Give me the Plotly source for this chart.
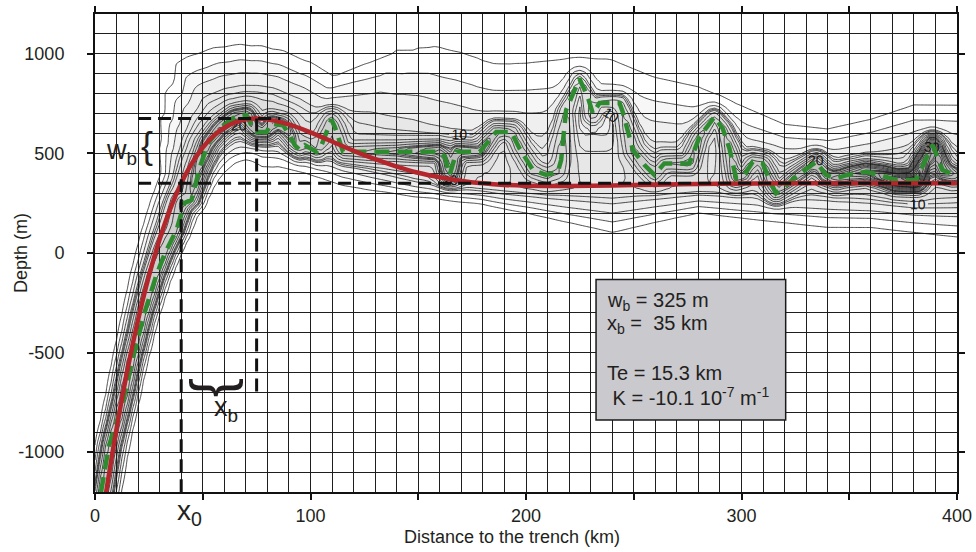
import numpy as np
import plotly.graph_objects as go

# ---------------------------------------------------------------------------
# Data (distance to the trench in km, depth in m)
# ---------------------------------------------------------------------------

# Elastic flexure model profile
RED_X = [4, 5, 6, 8, 10, 12, 15, 20, 25, 30, 35, 40, 45, 50, 55, 60, 65, 70,
         75, 80, 90, 100, 110, 120, 130, 140, 150, 160, 170, 180, 190, 200,
         220, 240, 260, 280, 300, 340, 400]
RED_Y = [-1285, -1213, -1144, -1010, -882, -761, -590, -335, -116, 69, 224,
         350, 451, 529, 588, 629, 656, 671, 675, 671, 646, 606, 560, 513, 471,
         434, 403, 380, 362, 350, 342, 338, 336, 339, 343, 347, 349, 350, 350]

# Median bathymetric profile
MED_X = [2.8, 3.9, 6.5, 10, 13.4, 17, 20.5, 23.2, 28.3, 32.5, 37.9, 41.4,
         44.8, 46.4, 48.7, 52.5, 57.9, 64.9, 70.3, 72.6, 75, 79.6, 81.9, 87.3,
         90.4, 92.7, 95, 97.4, 102.8, 105.1, 109.7, 111.3, 113.6, 115.1, 160,
         162.3, 164.6, 167.7, 178.5, 186.2, 193.2, 197, 203.2, 209.4, 214.8,
         216.3, 218.6, 224.8, 228.7, 231, 234.1, 243.4, 244.9, 249.6, 255,
         259.6, 264.2, 275.8, 280.5, 287.4, 291.3, 294.4, 297.5, 301.3, 305.2,
         309.8, 313.7, 316, 325.3, 334.6, 339.2, 343.8, 349.2, 357.8, 364,
         371.7, 381, 388.7, 393.3, 398.7]
MED_Y = [-1200, -1133, -967, -850, -725, -550, -413, -292, -117, 0, 117, 250,
         267, 333, 433, 550, 625, 683, 692, 641, 608, 608, 650, 641,
         591, 541, 517, 541, 508, 541, 670, 633, 550, 508, 508,
         483, 392, 508, 508, 608, 608, 525, 417, 392, 408,
         467, 717, 875, 783, 700, 753, 753, 708, 517, 442,
         392, 450, 450, 583, 683, 625, 525, 375, 392, 458,
         450, 350, 300, 383, 458, 392, 375, 392, 408, 392,
         367, 367, 542, 417, 392]

# Data-density swath around the profiles (counts per bin)
BAND_X = [0, 20, 40, 60, 80, 100, 120, 140, 160, 180, 200, 220, 240, 260, 280,
          300, 320, 340, 360, 380, 400]
BAND_UP = [16, 18, 24, 85, 75, 65, 115, 135, 135, 128, 131, 136, 135, 115,
           104, 83, 63, 58, 68, 83, 83]
BAND_DN = [15, 18, 30, 40, 51, 43, 39, 29, 23, 22, 29, 39, 50, 40, 31, 37, 42,
           47, 47, 52, 57]
BAND_LEVEL = [11, 11, 12, 12, 12, 11, 11, 11, 11, 11, 11, 11, 11, 11, 11, 11,
              11, 11, 12, 13, 12]
RIDGE_PEAK = [8, 8, 10, 14, 14, 8, 8, 10, 16, 12, 8, 6, 8, 8, 10, 10, 10, 14,
              20, 30, 12]

# Fitted bulge parameters
X0 = 40      # km, zero crossing
XB = 35      # km, distance from x0 to the bulge
WB = 325     # m, bulge height
BASE = 350   # m, reference level

X_TICKS = [0, 50, 100, 150, 200, 250, 300, 350, 400]
X_TICKTEXT = ["0", "", "100", "", "200", "", "300", "", "400"]
Y_TICKS = [-1000, -500, 0, 500, 1000]
Y_TICKTEXT = ["-1000", "-500", "0", "500", "1000"]

# ---------------------------------------------------------------------------
# Density grid
# ---------------------------------------------------------------------------
KX = 862.0 / 400.0     # screen units per km
KY = 478.0 / 2400.0    # screen units per m


def polyline_distance(px, py, lx, ly):
    ax, ay = lx[:-1], ly[:-1]
    dx, dy = lx[1:] - ax, ly[1:] - ay
    l2 = dx * dx + dy * dy
    t = ((px[:, None] - ax) * dx + (py[:, None] - ay) * dy) / l2
    t = np.clip(t, 0.0, 1.0)
    cx = ax + t * dx
    cy = ay + t * dy
    d2 = (px[:, None] - cx) ** 2 + (py[:, None] - cy) ** 2
    k = np.argmin(d2, axis=1)
    idx = np.arange(px.size)
    d = np.sqrt(d2[idx, k])
    cross = dx[k] * (py - ay[k]) - dy[k] * (px - ax[k])
    return d, cross > 0, cx[idx, k] / KX


gx = np.arange(0, 400.01, 2.5)
gy = np.arange(-1200, 1200.01, 25)
GX, GY = np.meshgrid(gx, gy)
ptx = GX.ravel() * KX
pty = GY.ravel() * KY

rx = np.array(RED_X, float) * KX
ry = np.array(RED_Y, float) * KY
d_r, above, nx_r = polyline_distance(ptx, pty, rx, ry)
w = np.where(above, np.interp(nx_r, BAND_X, BAND_UP),
             np.interp(nx_r, BAND_X, BAND_DN))
amp = np.interp(nx_r, BAND_X, BAND_LEVEL)
broad = amp * np.exp(-np.log(amp / 2.5) * (d_r / w) ** 2)

mx = np.array(MED_X, float) * KX
my = np.array(MED_Y, float) * KY
d_g, _, nx_g = polyline_distance(ptx, pty, mx, my)
ridge = np.interp(nx_g, BAND_X, RIDGE_PEAK) * np.exp(-(d_g / 10.0) ** 2)

Z = (broad + ridge).reshape(GX.shape)

# ---------------------------------------------------------------------------
# Figure
# ---------------------------------------------------------------------------
FONT = "Liberation Sans, Arial, Helvetica, sans-serif"
INK = "#231f20"

# each filled level adds a thin translucent grey layer
fill_scale = [
    [0.0, "rgba(90,90,90,0)"],
    [0.059, "rgba(90,90,90,0)"],
    [0.06, "rgba(90,90,90,0.045)"],
    [1.0, "rgba(90,90,90,0.045)"],
]

fig = go.Figure()

fig.add_trace(go.Contour(
    x=gx, y=gy, z=Z, zmin=0, zmax=50, autocontour=False,
    contours=dict(start=3, end=59, size=2, coloring="fill"),
    colorscale=fill_scale, showscale=False,
    line=dict(color="#111111", width=0.75, smoothing=0.5),
    hoverinfo="skip",
))

fig.add_trace(go.Contour(
    x=gx, y=gy, z=Z, autocontour=False,
    contours=dict(start=10, end=50, size=10, coloring="none",
                  showlabels=True,
                  labelfont=dict(family=FONT, size=14, color="#111111")),
    line=dict(color="#111111", width=0.75, smoothing=0.5),
    showscale=False, hoverinfo="skip",
))

fig.add_trace(go.Scatter(
    x=MED_X, y=MED_Y, mode="lines",
    line=dict(color="#2e8b30", width=4.5, dash="15px,8px"),
    hoverinfo="skip", showlegend=False,
))

fig.add_trace(go.Scatter(
    x=RED_X, y=RED_Y, mode="lines",
    line=dict(color="#b3262b", width=4.5, shape="spline", smoothing=0.6),
    hoverinfo="skip", showlegend=False,
))

dash_line = dict(color="#111111", width=3, dash="13px,7px")
shapes = [
    dict(type="line", xref="x", yref="y", x0=20, x1=86,
         y0=BASE + WB, y1=BASE + WB, line=dash_line, layer="above"),
    dict(type="line", xref="x", yref="y", x0=20, x1=400,
         y0=BASE, y1=BASE, line=dash_line, layer="above"),
    dict(type="line", xref="x", yref="y", x0=X0, x1=X0,
         y0=BASE + 20, y1=-1200, line=dash_line, layer="above"),
    dict(type="line", xref="x", yref="y", x0=X0 + XB, x1=X0 + XB,
         y0=BASE + WB, y1=-700, line=dash_line, layer="above"),
    dict(type="rect", xref="x", yref="y", x0=232.5, x1=320.5,
         y0=-838, y1=-133, fillcolor="#c9c9ce",
         line=dict(color="#1a1a1a", width=1.5), layer="above"),
]

annotations = [
    dict(x=12.5, y=506, text="w<sub>b</sub>", showarrow=False,
         font=dict(family=FONT, size=27, color=INK)),
    dict(x=24, y=540, text="{", showarrow=False,
         font=dict(family=FONT, size=36, color=INK)),
    dict(x=58.7, y=-675, text="}", textangle=90, showarrow=False,
         font=dict(family=FONT, size=58, color=INK)),
    dict(x=60.7, y=-783, text="x<sub>b</sub>", showarrow=False,
         font=dict(family=FONT, size=27, color=INK)),
    dict(xref="paper", yref="paper", x=(189 - 95) / 862,
         y=-(512 - 492) / 478, xanchor="center", yanchor="middle",
         text="x<sub>0</sub>", showarrow=False,
         font=dict(family=FONT, size=28, color=INK)),
    dict(x=236.5, y=-242, xanchor="left", text="w<sub>b</sub> = 325 m",
         showarrow=False, font=dict(family=FONT, size=20, color=INK)),
    dict(x=236.5, y=-358, xanchor="left",
         text="x<sub>b</sub> = &nbsp;35 km",
         showarrow=False, font=dict(family=FONT, size=20, color=INK)),
    dict(x=236.5, y=-603, xanchor="left", text="Te = 15.3 km",
         showarrow=False, font=dict(family=FONT, size=20, color=INK)),
    dict(x=236.5, y=-718, xanchor="left",
         text="&nbsp;K = -10.1 10<sup>-7</sup> m<sup>-1</sup>",
         showarrow=False, font=dict(family=FONT, size=20, color=INK)),
    dict(xref="paper", yref="paper", x=(512 - 95) / 862,
         y=-(537 - 492) / 478, xanchor="center", yanchor="middle",
         text="Distance to the trench (km)", showarrow=False,
         font=dict(family=FONT, size=18, color=INK)),
    dict(xref="paper", yref="paper", x=-(95 - 21) / 862, y=0.5,
         xanchor="center", yanchor="middle",
         text="Depth (m)", textangle=-90, showarrow=False,
         font=dict(family=FONT, size=18, color=INK)),
]

axis_common = dict(
    ticks="outside", ticklen=6, tickwidth=1.5, tickcolor="#111111",
    showline=True, linewidth=2, linecolor="#111111", mirror="ticks",
    showgrid=True, gridcolor="#1e1e1e", gridwidth=1, zeroline=False,
    automargin=False,
    tickfont=dict(family=FONT, size=18, color=INK),
)

fig.update_layout(
    width=976, height=552,
    margin=dict(l=95, r=19, t=14, b=60),
    paper_bgcolor="white", plot_bgcolor="white",
    showlegend=False,
    shapes=shapes, annotations=annotations,
    xaxis=dict(range=[0, 400], tickmode="array", tickvals=X_TICKS,
               ticktext=X_TICKTEXT,
               minor=dict(dtick=10, tick0=0, showgrid=True,
                          gridcolor="#1e1e1e", gridwidth=1, ticks=""),
               **axis_common),
    yaxis=dict(range=[-1200, 1200], tickmode="array", tickvals=Y_TICKS,
               ticktext=Y_TICKTEXT, ticklabelstandoff=19,
               minor=dict(dtick=100, tick0=0, showgrid=True,
                          gridcolor="#1e1e1e", gridwidth=1, ticks=""),
               **axis_common),
)

fig.write_html("out.html")
